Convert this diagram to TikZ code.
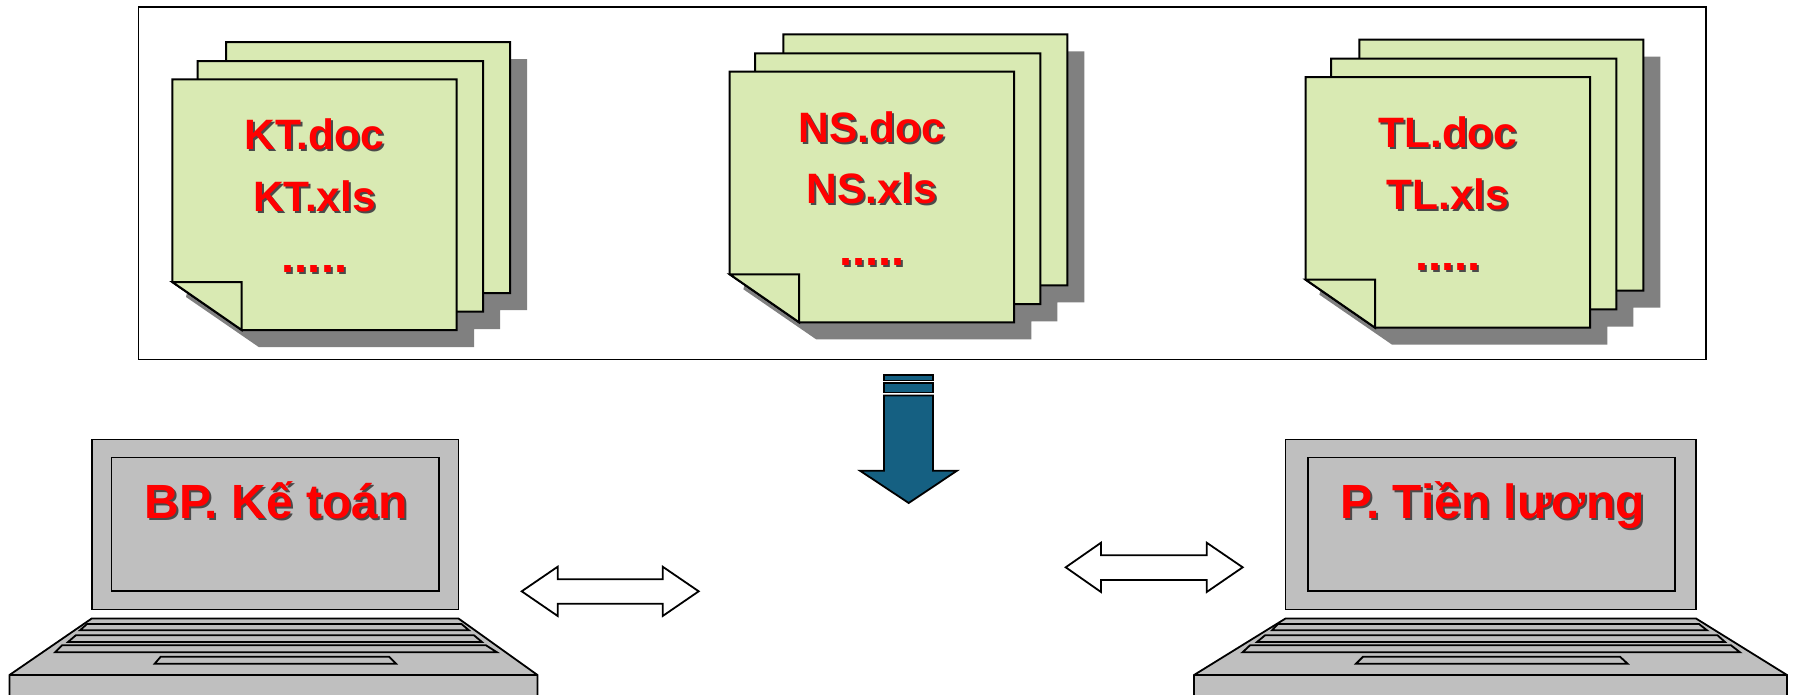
\documentclass[tikz,border=0pt]{standalone}
\usepackage{fontspec}
\setmainfont{Liberation Sans}
\definecolor{sheetgreen}{HTML}{D9EAB3}
\definecolor{sheetshadow}{HTML}{808080}
\definecolor{laptopgray}{HTML}{BFBFBF}
\definecolor{arrowblue}{HTML}{156082}
\definecolor{textshadow}{HTML}{4A4A4A}
\newcommand{\shadowed}[1]{\rlap{\kern2pt\raisebox{-2pt}{\textcolor{textshadow}{#1}}}\textcolor{red}{#1}}
\tikzset{
  sheet/.style={draw=black,fill=sheetgreen,line width=2pt,line join=miter},
  laptoppart/.style={draw=black,fill=laptopgray,line width=1.8pt},
  filetext/.style={font=\fontsize{42.5}{61.5}\selectfont\bfseries,align=center,inner sep=0pt},
  screentext/.style={font=\fontsize{48}{56}\selectfont\bfseries,anchor=base,inner sep=0pt},
  hollowarrow/.style={draw=black,fill=white,line width=1.8pt},
  bluepart/.style={draw=black,fill=arrowblue,line width=1.8pt}
}
\begin{document}
\begin{tikzpicture}[x=1pt,y=-1pt]
  \useasboundingbox (0,0) rectangle (1793,694);
  \clip (0,0) rectangle (1793,694);
  \draw[line width=1.8pt] (138.5,7) rectangle (1706,359.5);
  % the three stacks of files
  \foreach \dx/\dy/\stackname in {0/0/KT,557.4/-7.7/NS,1133.4/-2.3/TL} {
    \begin{scope}[shift={(\dx,\dy)}]
      \fill[sheetshadow] (243,59) -- (527,59) -- (527,310) -- (500,310) -- (500,329) -- (474,329) -- (474,347) -- (258.7,347) -- (186,297) -- cycle;
      \draw[sheet] (226,42) -- (510,42) -- (510,293) -- (295.4,293) -- (226,245) -- cycle;
      \draw[sheet] (197.7,61) -- (483,61) -- (483,311.7) -- (267.1,311.7) -- (197.7,263.7) -- cycle;
      \draw[sheet] (172.3,79.3) -- (456.7,79.3) -- (456.7,330) -- (241.7,330) -- (172.3,282) -- cycle;
      \draw[sheet] (172.3,282) -- (241.7,282) -- (241.7,330) -- cycle;
      \node[filetext] (\stackname) at (314.5,197) {\shadowed{\stackname.doc}\\\shadowed{\stackname.xls}\\\shadowed{\fontsize{47}{61.5}\selectfont .....}};
    \end{scope}
  }
  % arrow going down
  \draw[bluepart] (884,375) rectangle (933,380.5);
  \draw[bluepart] (884,383) rectangle (933,392.5);
  \draw[bluepart] (884,395.5) -- (933,395.5) -- (933,470.7) -- (957,470.7) -- (908.7,503) -- (860,470.7) -- (884,470.7) -- cycle;
  % left laptop
  \draw[laptoppart] (91.7,439.5) rectangle (458.5,609.5);
  \draw[laptoppart] (111.5,457.5) rectangle (439,591);
  \draw[laptoppart] (91.7,618.5) -- (458.5,618.5) -- (537.5,675) -- (537.5,700) -- (9.5,700) -- (9.5,675) -- cycle;
  \draw[laptoppart] (9.5,675) -- (537.5,675);
  \draw[laptoppart] (87,624) -- (461.5,624) -- (469,630.3) -- (80,630.3) -- cycle;
  \draw[laptoppart] (75.8,635.3) -- (474,635.3) -- (482,642) -- (68,642) -- cycle;
  \draw[laptoppart] (62,645.3) -- (486,645.3) -- (497,652.3) -- (55,652.3) -- cycle;
  \draw[laptoppart] (160.7,656.7) -- (389,656.7) -- (396,663.7) -- (154.7,663.7) -- cycle;
  \node[screentext] (ketoan) at (276,518) {\shadowed{BP. Kế toán}};
  % right laptop
  \draw[laptoppart] (1285.5,439.5) rectangle (1696,609.5);
  \draw[laptoppart] (1308,457.5) rectangle (1675,591);
  \draw[laptoppart] (1285.5,618.5) -- (1696,618.5) -- (1787,675) -- (1787,700) -- (1194,700) -- (1194,675) -- cycle;
  \draw[laptoppart] (1194,675) -- (1787,675);
  \draw[laptoppart] (1278,624) -- (1699,624) -- (1707,630.3) -- (1272,630.3) -- cycle;
  \draw[laptoppart] (1265,635.3) -- (1717.5,635.3) -- (1725,642) -- (1257,642) -- cycle;
  \draw[laptoppart] (1250,645.3) -- (1731,645.3) -- (1740,652.3) -- (1242.5,652.3) -- cycle;
  \draw[laptoppart] (1363,656.7) -- (1620,656.7) -- (1627.6,663.7) -- (1356,663.7) -- cycle;
  \node[screentext] (tienluong) at (1492.5,518) {\shadowed{P. Tiền lương}};
  % double arrows
  \draw[hollowarrow] (521.7,591.3) -- (557.7,566.7) -- (557.7,579.3) -- (662.7,579.3) -- (662.7,566.7) -- (698.7,591.3) -- (662.7,616) -- (662.7,603.7) -- (557.7,603.7) -- (557.7,616) -- cycle;
  \draw[hollowarrow] (1065.7,567.3) -- (1101,542.7) -- (1101,555.3) -- (1206.7,555.3) -- (1206.7,542.7) -- (1242.7,567.3) -- (1206.7,592) -- (1206.7,580) -- (1101,580) -- (1101,592) -- cycle;
\end{tikzpicture}
\end{document}
